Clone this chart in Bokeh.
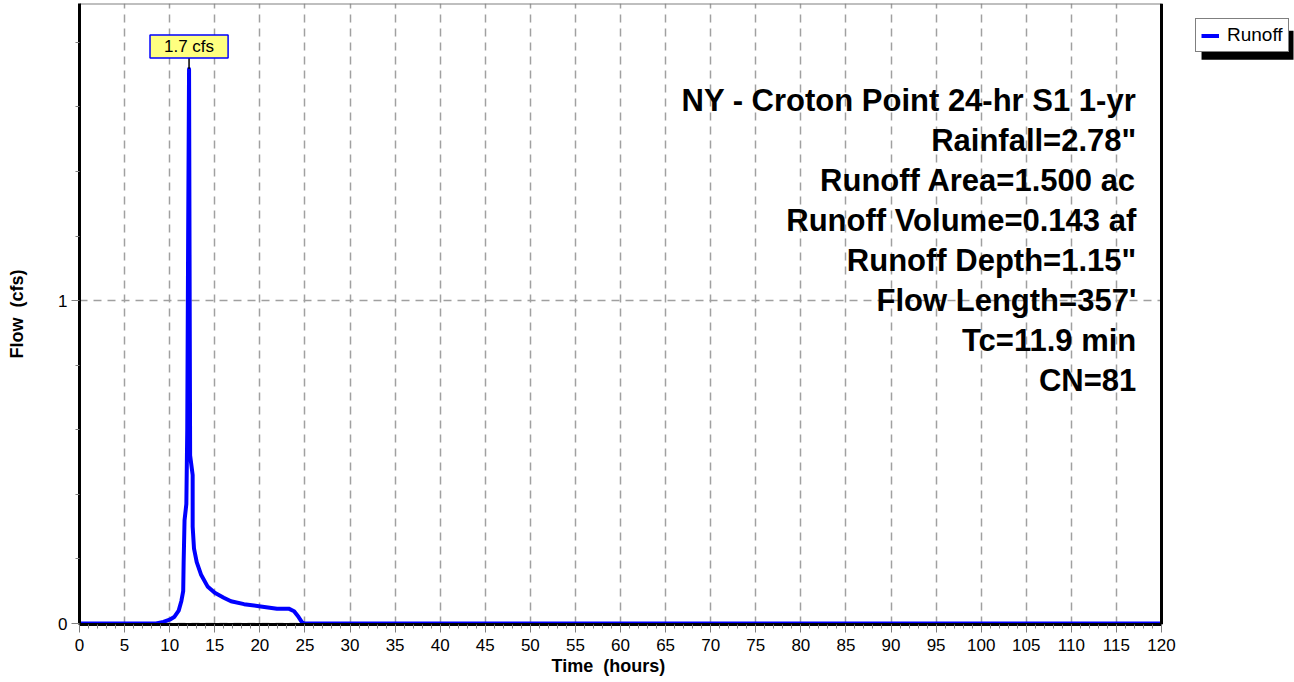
from bokeh.plotting import figure
from bokeh.models import (Label, Legend, LegendItem, Range1d, Span, Title,
                          BoxAnnotation, SingleIntervalTicker, FixedTicker)
from bokeh.embed import file_html
from bokeh.resources import INLINE

# ---- data ----
time_hr = [0, 8.5, 9.3, 10.0, 10.5, 11.0, 11.3, 11.5, 11.55, 11.65, 11.85,
           11.95, 12.05, 12.15, 12.22, 12.27, 12.55, 12.55, 12.7, 13.0,
           13.5, 14.2, 15.0, 16.0, 16.8, 18.25, 20.1, 21.9, 23.2, 23.8,
           24.3, 24.7, 25.0, 120]
flow_cfs = [0, 0, 0.005, 0.012, 0.02, 0.04, 0.07, 0.10, 0.19, 0.32, 0.37,
            0.60, 1.20, 1.717, 1.00, 0.52, 0.46, 0.30, 0.232, 0.19,
            0.15, 0.115, 0.095, 0.08, 0.069, 0.06, 0.053, 0.046, 0.046, 0.038,
            0.02, 0.003, 0.0, 0.0]
info_lines = ["NY - Croton Point 24-hr S1 1-yr", "Rainfall=2.78\"",
              "Runoff Area=1.500 ac", "Runoff Volume=0.143 af",
              "Runoff Depth=1.15\"", "Flow Length=357'", "Tc=11.9 min", "CN=81"]
peak_label = "1.7 cfs"
series_name = "Runoff"
x_label = "Time\u00a0 (hours)"
y_label = "Flow\u00a0 (cfs)"
x_min, x_max = 0, 120
y_major = [0, 1]
y_minor = [0.2, 0.4, 0.6, 0.8, 1.2, 1.4, 1.6, 1.8]

FONT = "Liberation Sans"
BLUE = "#0000ff"
GRID = "#a0a0a0"
Y_TOP = 1.92

# frame spans whole width so that the outside legend is not clipped;
# the plotting area (0..120 h) is delimited by axis bounds and a span.
p = figure(width=1294, height=682, output_backend="svg", toolbar_location=None,
           x_range=Range1d(0, 134.75), y_range=Range1d(-0.003, Y_TOP),
           min_border_left=79, min_border_right=0, min_border_top=3,
           min_border_bottom=58)
p.background_fill_color = "white"
p.border_fill_color = "white"
p.outline_line_color = None

# axes
xa = p.xaxis[0]
xa.ticker = SingleIntervalTicker(interval=5, num_minor_ticks=5)
xa.bounds = (x_min, x_max)
ya = p.yaxis[0]
ya.ticker = FixedTicker(ticks=y_major, minor_ticks=y_minor)
for ax in (xa, ya):
    ax.axis_line_color = "black"
    ax.axis_line_width = 3
    ax.major_tick_line_color = "#808080"
    ax.minor_tick_line_color = "#808080"
    ax.major_tick_in = 0
    ax.major_tick_out = 8
    ax.minor_tick_in = 0
    ax.minor_tick_out = 4
    ax.major_label_text_font = FONT
    ax.major_label_text_font_size = "17px"
    ax.major_label_text_color = "black"
    ax.axis_label_text_font = FONT
    ax.axis_label_text_font_size = "18px"
    ax.axis_label_text_font_style = "bold"
    ax.axis_label_text_color = "black"
ya.axis_label = y_label
xa.major_label_standoff = 6
ya.major_label_standoff = 4
ya.axis_label_standoff = 28

# x axis title, placed under the 0..120 h area
p.add_layout(Title(text=x_label, align="left", offset=472, standoff=0,
                   text_font=FONT, text_font_size="18px",
                   text_font_style="bold", text_color="black"), "below")

# grid: vertical lines via grid; horizontal major line limited to the area
p.xgrid.ticker = xa.ticker
p.xgrid.grid_line_color = GRID
p.xgrid.grid_line_dash = "8 6"
p.xgrid.grid_line_width = 1.5
p.ygrid.visible = False
p.segment(x0=[x_min] * len(y_major), y0=y_major, x1=[x_max] * len(y_major),
          y1=y_major, line_color=GRID, line_dash="8 6", line_width=1.5)

# top border (grey) and right border (black)
p.segment(x0=[x_min], y0=[Y_TOP], x1=[x_max], y1=[Y_TOP],
          line_color="#808080", line_width=2)
p.add_layout(Span(location=x_max, dimension="height", line_color="black",
                  line_width=3))

# series
r = p.line(time_hr, flow_cfs, line_color=BLUE, line_width=4, line_join="round")

# peak annotation
peak_q = max(flow_cfs)
peak_t = time_hr[flow_cfs.index(peak_q)]
lead = 11 / 323
p.segment(x0=[peak_t], y0=[peak_q], x1=[peak_t], y1=[peak_q + lead],
          line_color="black", line_width=1.5)
p.add_layout(Label(x=peak_t, y=peak_q + lead, text=peak_label,
                   text_align="center", text_baseline="bottom",
                   text_font=FONT, text_font_size="17px", text_color="black",
                   background_fill_color="#ffff80", border_line_color=BLUE,
                   border_line_width=1.5, padding=(14, 2)))

# info text block
y0 = 1.619
step = 40 / 323
for i, t in enumerate(info_lines):
    p.add_layout(Label(x=117.2, y=y0 - i * step, text=t, text_align="right",
                       text_baseline="middle", text_font=FONT,
                       text_font_size="31px", text_font_style="bold",
                       text_color="black"))

# legend drop shadow
p.add_layout(BoxAnnotation(left=124.44, right=134.64, top=1.836, bottom=1.746,
                           fill_color="black", fill_alpha=1, line_color=None))

# legend
item = LegendItem(label=series_name, renderers=[r])
lg = Legend(items=[item], location=(1116, 572),
            border_line_color="black", border_line_width=1,
            background_fill_color="white", background_fill_alpha=1,
            label_text_font=FONT, label_text_font_size="19px",
            label_text_color="black", padding=5, margin=0, spacing=0,
            glyph_width=18, glyph_height=19, label_standoff=8,
            label_width=56, label_height=19)
p.add_layout(lg, "center")

open("out.html", "w").write(file_html(p, INLINE))
